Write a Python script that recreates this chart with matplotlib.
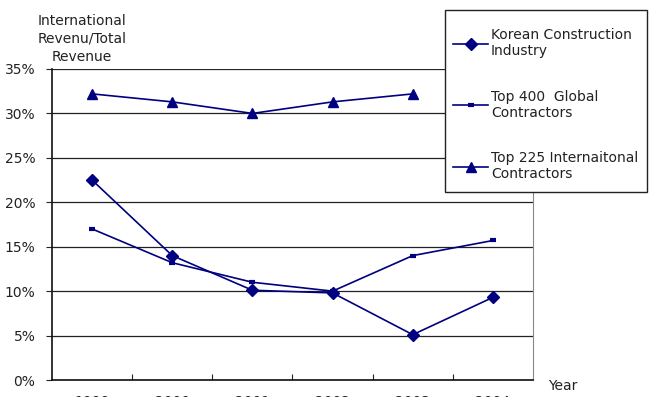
import matplotlib
matplotlib.use("Agg")
import matplotlib.pyplot as plt
from matplotlib.lines import Line2D
from matplotlib.patches import Rectangle

years = ["1999", "2000", "2001", "2002", "2003", "2004"]
korean = [22.5, 14.0, 10.1, 9.8, 5.1, 9.3]
top400 = [17.0, 13.2, 11.0, 10.0, 14.0, 15.7]
top225 = [32.2, 31.3, 30.0, 31.3, 32.2]
yticks = [0, 5, 10, 15, 20, 25, 30, 35]

navy = "#000080"
plt.rcParams['font.family'] = ['DejaVu Sans']

fig = plt.figure(figsize=(6.5, 3.97), dpi=100)
W, H = 650, 397
ax = fig.add_axes([52 / W, 1 - 380 / H, (533 - 52) / W, (380 - 69) / H])

x = list(range(len(years)))
ax.plot(x, korean, color=navy, lw=1.2, marker="D", ms=6, zorder=3)
ax.plot(x, top400, color=navy, lw=1.2, marker="_", ms=5, mew=3, zorder=3)
ax.plot(x[:len(top225)], top225, color=navy, lw=1.2, marker="^", ms=7, zorder=3)

ax.set_xlim(-0.5, len(years) - 0.5)
ax.set_ylim(0, 35)
ax.set_yticks(yticks)
ax.set_yticklabels([f"{v}%" for v in yticks], fontsize=10, color="#222222")
ax.yaxis.grid(True, color="#222222", lw=0.9)
ax.set_axisbelow(True)

ax.set_xticks([i + 0.5 for i in range(len(years) - 1)])
ax.set_xticklabels([])
ax.set_xticks(x, minor=True)
ax.set_xticklabels(years, minor=True, fontsize=10, color="#222222")
ax.tick_params(axis="x", which="major", direction="in", length=4, color="#222222")
ax.tick_params(axis="x", which="minor", length=0, pad=10.5)
ax.tick_params(axis="y", direction="out", length=4, color="#222222", pad=8)

for s in ["left", "bottom"]:
    ax.spines[s].set_color("#111111")
    ax.spines[s].set_linewidth(1.2)
ax.spines["right"].set_color("#888888")
ax.spines["top"].set_visible(False)

fig.text(82 / W, 1 - 39 / H, "International\nRevenu/Total\nRevenue", ha="center",
         va="center", fontsize=10, color="#222222", linespacing=1.35)
fig.text(548 / W, 1 - 386 / H, "Year", ha="left", va="center", fontsize=10, color="#222222")

# legend box
fig.patches.append(Rectangle((445 / W, 1 - 192 / H), (647 - 445) / W, (192 - 10) / H,
                             transform=fig.transFigure, facecolor="white",
                             edgecolor="#222222", lw=1.0, zorder=5))

handles = [
    Line2D([], [], color=navy, lw=1.2, marker="D", ms=6),
    Line2D([], [], color=navy, lw=1.2, marker="_", ms=5, mew=3),
    Line2D([], [], color=navy, lw=1.2, marker="^", ms=7),
]
labels = ["Korean Construction\nIndustry", "Top 400  Global\nContractors",
          "Top 225 Internaitonal\nContractors"]
leg = fig.legend(handles, labels, loc="upper left",
                 bbox_to_anchor=(438 / W, 1 - 13 / H), frameon=False,
                 fontsize=10, handlelength=2.5, handletextpad=0.2,
                 labelspacing=2.25, borderpad=1.1, borderaxespad=0)
leg.set_zorder(6)
for t in leg.get_texts():
    t.set_color("#222222")

fig.savefig("out.png", dpi=100)
